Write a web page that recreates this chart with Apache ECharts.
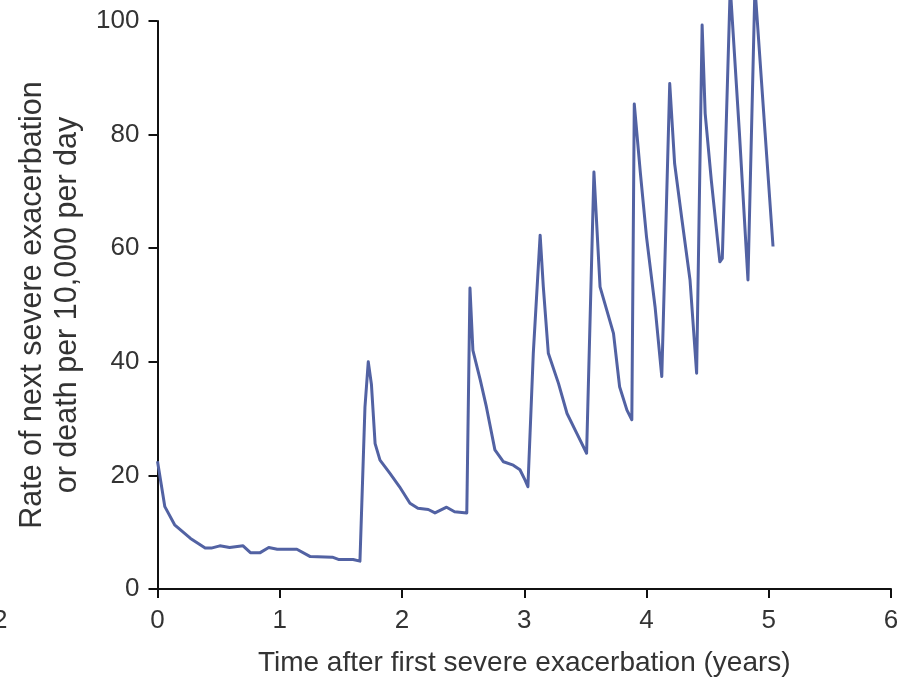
<!DOCTYPE html>
<html>
<head>
<meta charset="utf-8">
<script src="https://cdn.jsdelivr.net/npm/echarts@6/dist/echarts.min.js"></script>
<style>
  html, body { margin: 0; padding: 0; background: #fff; }
  #chart { width: 905px; height: 683px; }
</style>
</head>
<body>
<div id="chart"></div>
<script>
// years after first severe exacerbation
const years = [
  0, 0.03, 0.06, 0.14, 0.27, 0.39, 0.44, 0.51, 0.59, 0.70, 0.76, 0.84, 0.91, 0.98,
  1.14, 1.25, 1.43, 1.48, 1.60, 1.656, 1.697, 1.724, 1.75, 1.78, 1.82, 1.90, 1.98,
  2.065, 2.13, 2.215, 2.27, 2.365, 2.43, 2.53, 2.545, 2.556, 2.58, 2.64, 2.69, 2.76,
  2.83, 2.91, 2.965, 3.006, 3.03, 3.074, 3.13, 3.156, 3.197, 3.28, 3.35, 3.43, 3.51,
  3.57, 3.62, 3.675, 3.73, 3.78, 3.84, 3.88, 3.90, 3.95, 4.00, 4.07, 4.125, 4.19,
  4.23, 4.29, 4.356, 4.41, 4.455, 4.48, 4.53, 4.60, 4.62, 4.685, 4.76, 4.83, 4.887,
  4.97, 5.035
];
// rate per 10,000 per day
const rates = [
  22.5, 18.5, 14.5, 11.3, 8.9, 7.2, 7.2, 7.6, 7.3, 7.6, 6.4, 6.4, 7.3, 7.0,
  7.0, 5.7, 5.6, 5.2, 5.2, 4.9, 32, 40, 36, 25.6, 22.7, 20.4, 18.0,
  15.1, 14.2, 14.0, 13.4, 14.4, 13.6, 13.4, 13.4, 53, 42, 36.8, 32.1, 24.5,
  22.4, 21.8, 21.0, 19.2, 18.0, 41.5, 62.3, 53.2, 41.5, 36.2, 30.9, 27.4, 23.9,
  73.4, 53.2, 49.1, 45.0, 35.6, 31.5, 29.8, 85.4, 73.2, 62.0, 49.7, 37.4, 89.0,
  74.9, 65.0, 54.4, 38.0, 99.3, 83.7, 72.0, 57.6, 58.2, 106, 80.3, 54.4, 106,
  80.3, 60.3
];
const xTicks = [0, 1, 2, 3, 4, 5, 6];
const yTicks = [0, 20, 40, 60, 80, 100];

const font = "'Liberation Sans', Arial, sans-serif";
const textColor = "#333";

const chart = echarts.init(document.getElementById("chart"));

const option = {
  backgroundColor: "#fff",
  animation: false,
  grid: { left: 157.5, right: 14, top: 21, bottom: 94 },
  xAxis: {
    type: "value",
    min: xTicks[0],
    max: xTicks[xTicks.length - 1],
    interval: 1,
    name: "Time after first severe exacerbation (years)",
    nameLocation: "middle",
    nameGap: 60,
    nameTextStyle: { fontFamily: font, fontSize: 28, color: textColor },
    axisLine: { lineStyle: { color: "#111", width: 2 } },
    axisTick: { show: true, length: 9, lineStyle: { color: "#111", width: 2 } },
    axisLabel: { fontFamily: font, fontSize: 26, color: textColor, margin: 19 },
    splitLine: { show: false }
  },
  yAxis: {
    type: "value",
    min: yTicks[0],
    max: yTicks[yTicks.length - 1],
    interval: 20,
    name: "Rate of next severe exacerbation\nor death per 10,000 per day",
    nameLocation: "middle",
    nameRotate: 90,
    nameGap: 64,
    nameTextStyle: { fontFamily: font, fontSize: 30.5, color: textColor, lineHeight: 35 },
    axisLine: { show: true, lineStyle: { color: "#111", width: 2 } },
    axisTick: { show: true, length: 9, lineStyle: { color: "#111", width: 2 } },
    axisLabel: { fontFamily: font, fontSize: 26, color: textColor, margin: 18 },
    splitLine: { show: false }
  },
  graphic: [
    {
      type: "text",
      left: -7,
      top: 608,
      style: { text: "2", font: "26px " + font, fill: textColor }
    }
  ],
  series: [
    {
      type: "line",
      data: years.map((x, i) => [x, rates[i]]),
      showSymbol: false,
      clip: false,
      lineStyle: { color: "#5262a3", width: 3, join: "round" }
    }
  ]
};

chart.setOption(option);
</script>
</body>
</html>
